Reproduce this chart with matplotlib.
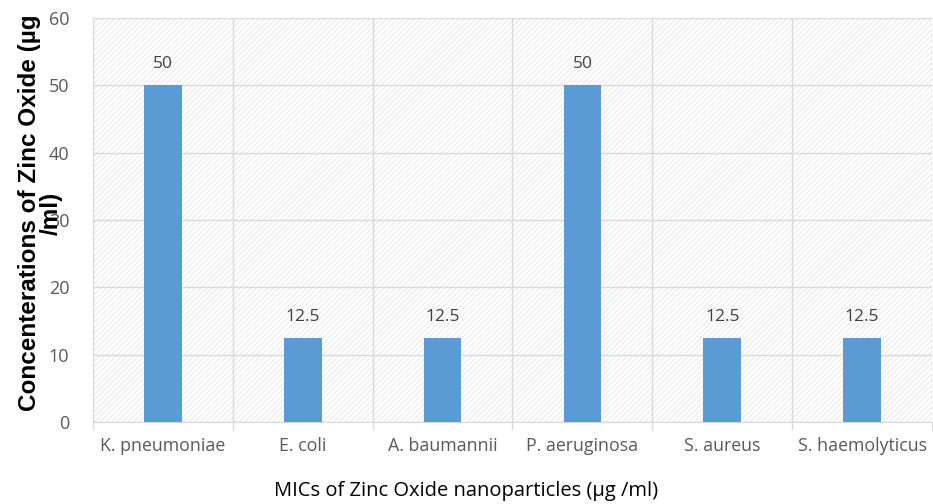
import matplotlib.pyplot as plt
from matplotlib.patches import Rectangle

organisms = ['K. pneumoniae', 'E. coli', 'A. baumannii', 'P. aeruginosa',
             'S. aureus', 'S. haemolyticus']
mic = [50, 12.5, 12.5, 50, 12.5, 12.5]
labels = ['50', '12.5', '12.5', '50', '12.5', '12.5']

plt.rcParams['hatch.linewidth'] = 0.6

fig = plt.figure(figsize=(9.33, 5.04), dpi=100)
ax = fig.add_axes([93/933, 82/504, 839/933, 404/504])

# hatched background of plot area
bg = Rectangle((0, 0), 1, 1, transform=ax.transAxes, facecolor='white',
               edgecolor='#e4e4e4', hatch='//////', linewidth=0, zorder=0)
ax.add_patch(bg)

x = range(len(organisms))
ax.bar(x, mic, width=0.27, color='#5B9BD5', zorder=3)
for xi, v, t in zip(x, mic, labels):
    ax.text(xi, v + 3.1, t, ha='center', va='center', fontsize=12.5,
            color='#404040', family='Open Sans', zorder=4)

ax.set_xlim(-0.5, len(organisms) - 0.5)
ax.set_ylim(0, 60)
ax.set_yticks(range(0, 61, 10))
ax.set_xticks(x)
ax.set_xticklabels(organisms, family='Open Sans', fontsize=12.8, color='#595959')
ax.set_xticks([i - 0.5 for i in range(len(organisms) + 1)], minor=True)
ax.tick_params(axis='x', which='major', length=0, pad=11)
ax.tick_params(axis='x', which='minor', length=6, color='#d9d9d9', width=1)
ax.tick_params(axis='y', length=0, pad=17, labelsize=13, labelcolor='#595959')
for t in ax.get_yticklabels():
    t.set_family('Open Sans')

ax.grid(axis='y', color='#d9d9d9', linewidth=1, zorder=1)
ax.grid(axis='x', which='minor', color='#d9d9d9', linewidth=1, zorder=1)
ax.set_axisbelow(True)
for s in ['top', 'right', 'left']:
    ax.spines[s].set_visible(False)
ax.spines['bottom'].set_color('#d9d9d9')

ax.set_ylabel('Concenterations of Zinc Oxide (µg\n/ml)', fontsize=17.5,
              fontweight='bold', family='Liberation Sans', linespacing=0.95)
ax.yaxis.set_label_coords(-0.036, 0.517)
ax.set_xlabel('MICs of Zinc Oxide nanoparticles (µg /ml)', fontsize=14.5,
              family='Open Sans')
ax.xaxis.set_label_coords(0.445, -0.145)

fig.savefig('out.png', dpi=100)
